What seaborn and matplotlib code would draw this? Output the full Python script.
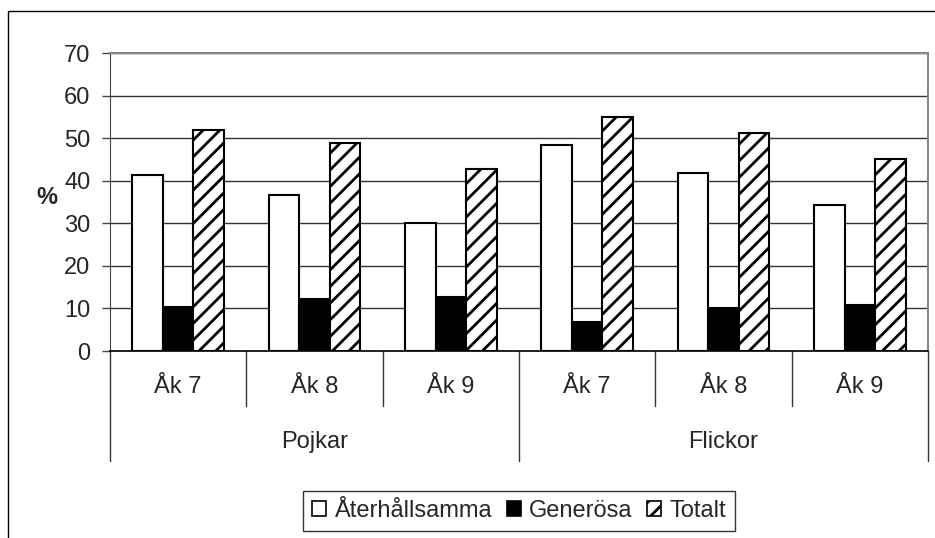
import pandas as pd
import seaborn as sns
import matplotlib.pyplot as plt
from matplotlib.patches import Patch, Rectangle

# values
groups = ["Pojkar", "Pojkar", "Pojkar", "Flickor", "Flickor", "Flickor"]
grades = ["Åk 7", "Åk 8", "Åk 9", "Åk 7", "Åk 8", "Åk 9"]
series = ["Återhållsamma", "Generösa", "Totalt"]
aterhallsamma = [41.3, 36.6, 30.0, 48.4, 41.8, 34.4]
generosa = [10.3, 12.3, 12.8, 6.7, 10.0, 10.9]
totalt = [51.8, 48.9, 42.8, 55.0, 51.3, 45.2]
yticks = [0, 10, 20, 30, 40, 50, 60, 70]

keys = [g + " " + k for g, k in zip(groups, grades)]
rows = []
for name, vals in zip(series, [aterhallsamma, generosa, totalt]):
    for key, v in zip(keys, vals):
        rows.append({"key": key, "serie": name, "value": v})
df = pd.DataFrame(rows)

sns.set_style("white")
plt.rcParams["font.family"] = ["Liberation Sans", "DejaVu Sans"]
plt.rcParams["hatch.linewidth"] = 2.0
plt.rcParams["hatch.color"] = "black"
FS = 17

W, H = 935, 538
fig = plt.figure(figsize=(W / 100, H / 100), dpi=100)
ax = fig.add_axes([110 / W, 1 - 351 / H, (928 - 110) / W, (351 - 53) / H])

palette = {"Återhållsamma": "white", "Generösa": "black", "Totalt": "white"}
sns.barplot(data=df, x="key", y="value", hue="serie", order=keys,
            hue_order=series, palette=palette, edgecolor="black",
            linewidth=1.5, width=0.67, gap=0, errorbar=None,
            legend=False, ax=ax, zorder=3)
for bar in ax.containers[2]:
    bar.set_hatch("//")

ax.set_xlim(-0.5, 5.5)
ax.set_ylim(0, 70)
ax.set_yticks(yticks)
ax.set_yticklabels([str(t) for t in yticks], fontsize=FS)
ax.tick_params(axis="y", length=6, width=1, color="#444", pad=8, left=True)
ax.set_xticks([])
ax.set_xlabel("")
ax.set_ylabel("")
ax.grid(axis="y", color="#333", lw=1, zorder=0)
ax.set_axisbelow(True)
for s in ["top", "right"]:
    ax.spines[s].set_color("#888")
    ax.spines[s].set_linewidth(1.5)
ax.spines["left"].set_color("#444")
ax.spines["bottom"].set_color("black")
ax.spines["bottom"].set_linewidth(1.2)

# two-level category axis
trans = ax.get_xaxis_transform()
ax_h = 351 - 53
for x in [0.5, 1.5, 3.5, 4.5]:
    ax.plot([x, x], [0, -(406 - 351) / ax_h], transform=trans, color="#333",
            lw=1, clip_on=False)
for x in [-0.5, 2.5, 5.5]:
    ax.plot([x, x], [0, -(461 - 351) / ax_h], transform=trans, color="#333",
            lw=1, clip_on=False)
for i, g in enumerate(grades):
    ax.text(i, -(387 - 351) / ax_h, g, transform=trans, ha="center",
            va="center", fontsize=FS)
ax.text(1, -(442 - 351) / ax_h, "Pojkar", transform=trans, ha="center",
        va="center", fontsize=FS)
ax.text(4, -(442 - 351) / ax_h, "Flickor", transform=trans, ha="center",
        va="center", fontsize=FS)

fig.text(47 / W, 1 - 197 / H, "%", ha="center", va="center", fontsize=FS,
         fontweight="bold")

handles = [Patch(facecolor="white", edgecolor="black", lw=1.2),
           Patch(facecolor="black", edgecolor="black", lw=1.2),
           Patch(facecolor="white", edgecolor="black", lw=1.2, hatch="//")]
leg = fig.legend(handles, series, loc="center",
                 bbox_to_anchor=(519 / W, 1 - 511 / H), ncol=3, fontsize=FS,
                 frameon=True, fancybox=False, edgecolor="black",
                 handlelength=0.6, handleheight=0.6, handletextpad=0.35,
                 columnspacing=0.6, borderpad=0.4)
leg.get_frame().set_linewidth(1.0)

# outer chart frame (cut off at right and bottom like the reference)
fig.add_artist(Rectangle((8 / W, -0.05), 1.0, 1 - 11 / H + 0.05,
                         transform=fig.transFigure, fill=False,
                         edgecolor="black", lw=1))

fig.savefig("out.png", dpi=100)
